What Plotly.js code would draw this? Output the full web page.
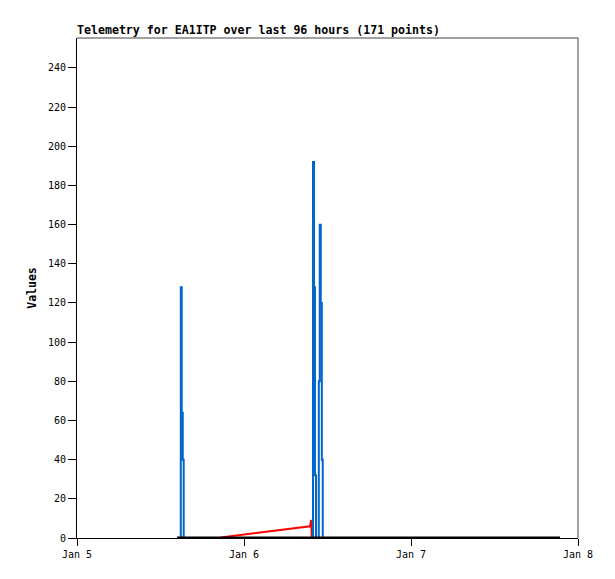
<!DOCTYPE html>
<html>
<head>
<meta charset="utf-8">
<script src="https://cdn.plot.ly/plotly-3.0.1.min.js"></script>
<style>html,body{margin:0;padding:0;background:#fff;}#chart{width:615px;height:579px;}</style>
</head>
<body>
<div id="chart"></div>
<script>
// Blue channel (spikes)
const blueTimes = [
  "2025-01-05 14:22", "2025-01-05 14:55", "2025-01-05 15:03", "2025-01-05 15:12", "2025-01-05 15:20",
  "2025-01-06 09:55", "2025-01-06 10:04", "2025-01-06 10:12", "2025-01-06 10:21", "2025-01-06 10:45",
  "2025-01-06 10:53", "2025-01-06 11:02", "2025-01-06 11:11", "2025-01-06 11:19", "2025-01-07 21:25"
];
const blueValues = [0, 128, 64, 40, 0, 192, 128, 32, 0, 80, 160, 120, 40, 0, 0];

// Red channel (slow ramp)
const redTimes = ["2025-01-05 20:41", "2025-01-06 09:29", "2025-01-06 09:40", "2025-01-06 09:44"];
const redValues = [0.3, 6, 9.2, 0];

// Black channel (flat at zero)
const blackTimes = ["2025-01-05 14:22", "2025-01-07 21:25"];
const blackValues = [0, 0];

const xTickVals = ["2025-01-05", "2025-01-06", "2025-01-07", "2025-01-08"];
const xTickText = ["Jan 5", "Jan 6", "Jan 7", "Jan 8"];
const yTickVals = [0, 20, 40, 60, 80, 100, 120, 140, 160, 180, 200, 220, 240];

const mono = "DejaVu Sans Mono, monospace";

const traces = [
  {x: redTimes, y: redValues, type: "scatter", mode: "lines", line: {color: "#ff0000", width: 2}, hoverinfo: "skip"},
  {x: blueTimes, y: blueValues, type: "scatter", mode: "lines", line: {color: "#0066cc", width: 2, shape: "hv"}, hoverinfo: "skip"},
  {x: blackTimes, y: blackValues, type: "scatter", mode: "lines", line: {color: "#000000", width: 3}, hoverinfo: "skip"}
];

const layout = {
  width: 615, height: 579,
  margin: {l: 77, r: 37, t: 38, b: 41, pad: 0},
  paper_bgcolor: "#ffffff", plot_bgcolor: "#ffffff",
  showlegend: false,
  font: {family: mono, size: 10, color: "#000"},
  title: {
    text: "<b>Telemetry for EA1ITP over last 96 hours (171 points)</b>",
    font: {family: mono, size: 11.6, color: "#000"},
    x: 77 / 615, xref: "container", xanchor: "left",
    y: 1 - 30 / 579, yref: "container", yanchor: "middle"
  },
  xaxis: {
    type: "date",
    range: ["2025-01-05", "2025-01-08"],
    tickmode: "array", tickvals: xTickVals, ticktext: xTickText,
    ticks: "outside", ticklen: 7, tickcolor: "#000", tickwidth: 1,
    showline: true, linecolor: "#000", linewidth: 1,
    showgrid: false, zeroline: false,
    tickfont: {family: mono, size: 10, color: "#000"},
    fixedrange: true
  },
  yaxis: {
    range: [0, 255.3],
    tickmode: "array", tickvals: yTickVals,
    ticks: "outside", ticklen: 8, tickcolor: "#000", tickwidth: 1,
    showline: true, linecolor: "#000", linewidth: 1,
    showgrid: false, zeroline: false,
    tickfont: {family: mono, size: 10, color: "#000"},
    title: {text: "<b>Values</b>", font: {family: mono, size: 11.5, color: "#000"}, standoff: 8},
    automargin: false,
    fixedrange: true
  },
  shapes: [
    {type: "line", xref: "paper", yref: "paper", x0: 0, x1: 1, y0: 1, y1: 1, line: {color: "#444", width: 1}},
    {type: "line", xref: "paper", yref: "paper", x0: 1, x1: 1, y0: 0, y1: 1, line: {color: "#444", width: 1}}
  ]
};

Plotly.newPlot("chart", traces, layout, {staticPlot: true, displayModeBar: false});
</script>
</body>
</html>
